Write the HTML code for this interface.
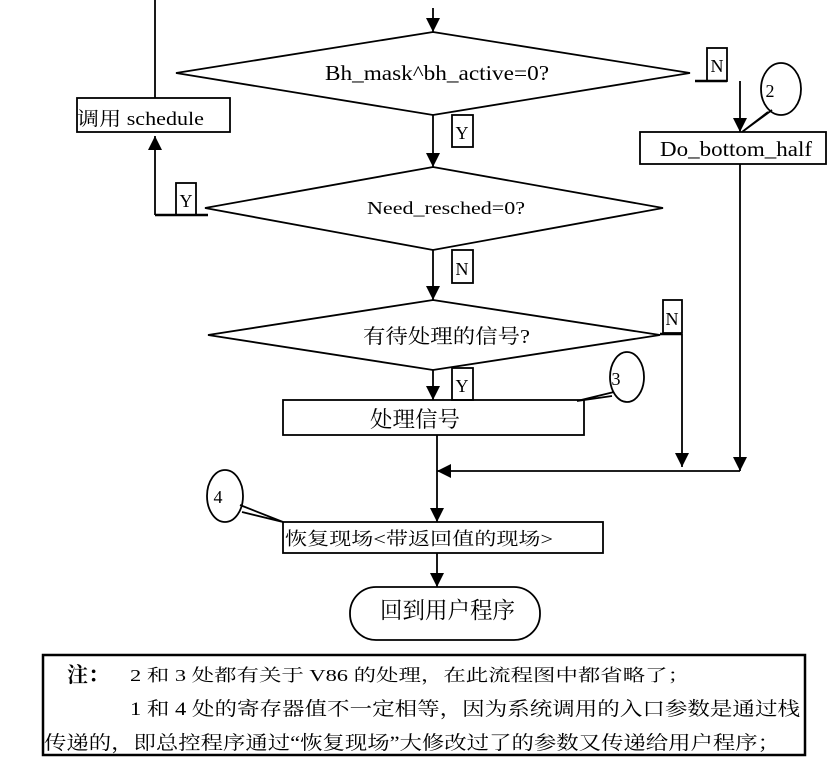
<!DOCTYPE html>
<html><head><meta charset="utf-8"><style>html,body{margin:0;padding:0;background:#fff}svg{display:block}</style></head>
<body>
<svg width="834" height="766" viewBox="0 0 834 766" xmlns="http://www.w3.org/2000/svg" font-family="Liberation Serif, Noto Serif CJK SC, serif" fill="#000">
<defs>
<marker id="a" viewBox="0 0 10 10" refX="10" refY="5" markerWidth="14" markerHeight="14" markerUnits="userSpaceOnUse" orient="auto"><path d="M0,0 L10,5 L0,10 z"/></marker>
</defs>
<g stroke="#000" stroke-width="1.8" fill="none">
<line x1="433" y1="8" x2="433" y2="32" marker-end="url(#a)"/>
<polygon points="433,32 690,73 433,115 176,73"/>
<rect x="77" y="98" width="153" height="34"/>
<line x1="155" y1="0" x2="155" y2="98"/>
<line x1="155" y1="215" x2="155" y2="136" marker-end="url(#a)"/>
<line x1="155" y1="215" x2="208" y2="215" stroke-width="2.5"/>
<rect x="176" y="183" width="20" height="32"/>
<line x1="433" y1="115" x2="433" y2="167" marker-end="url(#a)"/>
<rect x="452" y="115" width="21" height="32"/>
<polygon points="433,167 663,208 433,250 205,208"/>
<line x1="433" y1="250" x2="433" y2="300" marker-end="url(#a)"/>
<rect x="452" y="250" width="21" height="33"/>
<rect x="707" y="48" width="20" height="33"/>
<line x1="695" y1="81" x2="727" y2="81" stroke-width="2.5"/>
<line x1="740" y1="81" x2="740" y2="132" marker-end="url(#a)"/>
<rect x="640" y="132" width="186" height="32"/>
<line x1="740" y1="164" x2="740" y2="471" marker-end="url(#a)"/>
<ellipse cx="781" cy="89" rx="20" ry="26"/>
<path d="M772,110 L742,132 L768,112"/>
<polygon points="433,300 660,335 433,370 208,335"/>
<rect x="663" y="300" width="19" height="33"/>
<line x1="660" y1="334" x2="682" y2="334" stroke-width="2.5"/>
<line x1="682" y1="334" x2="682" y2="467" marker-end="url(#a)"/>
<line x1="433" y1="370" x2="433" y2="400" marker-end="url(#a)"/>
<rect x="452" y="368" width="21" height="32"/>
<rect x="283" y="400" width="301" height="35"/>
<ellipse cx="627" cy="377" rx="17" ry="25"/>
<path d="M614,392 L577,401 L612,396"/>
<line x1="437" y1="435" x2="437" y2="522" marker-end="url(#a)"/>
<line x1="740" y1="471" x2="437" y2="471" marker-end="url(#a)"/>
<rect x="283" y="522" width="320" height="31"/>
<ellipse cx="225" cy="496" rx="18" ry="26"/>
<path d="M240,505 L283,522 L242,512"/>
<line x1="437" y1="553" x2="437" y2="587" marker-end="url(#a)"/>
<rect x="350" y="587" width="190" height="53" rx="26"/>
<rect x="43" y="655" width="762" height="100" stroke-width="2.5"/>
</g>
<g font-size="21">
<text x="325" y="80" textLength="224" lengthAdjust="spacingAndGlyphs">Bh_mask^bh_active=0?</text>
<text x="367" y="214" font-size="18" textLength="158" lengthAdjust="spacingAndGlyphs">Need_resched=0?</text>
<text x="363" y="343" font-size="20" textLength="167" lengthAdjust="spacingAndGlyphs">有待处理的信号?</text>
<text x="370" y="427" font-size="22" textLength="90" lengthAdjust="spacingAndGlyphs">处理信号</text>
<text x="660" y="156" textLength="152" lengthAdjust="spacingAndGlyphs">Do_bottom_half</text>
<text x="380" y="618" font-size="23" textLength="135" lengthAdjust="spacingAndGlyphs">回到用户程序</text>
</g>
<g font-size="18" text-anchor="middle">
<text x="186" y="207">Y</text>
<text x="462" y="139">Y</text>
<text x="462" y="275">N</text>
<text x="462" y="392">Y</text>
<text x="717" y="72">N</text>
<text x="672" y="325">N</text>
<text x="770" y="97">2</text>
<text x="616" y="385">3</text>
<text x="218" y="503">4</text>
</g>
<text x="77" y="125" font-size="19" textLength="127" lengthAdjust="spacingAndGlyphs">调用 schedule</text>
<text x="285" y="545" font-size="18" textLength="268" lengthAdjust="spacingAndGlyphs">恢复现场&lt;带返回值的现场&gt;</text>
<text x="67" y="682" font-size="21" font-weight="bold">注：</text>
<text x="130" y="681" font-size="17" textLength="560" lengthAdjust="spacingAndGlyphs">2 和 3 处都有关于 V86 的处理，在此流程图中都省略了；</text>
<text x="130" y="715" font-size="19" textLength="670" lengthAdjust="spacingAndGlyphs">1 和 4 处的寄存器值不一定相等，因为系统调用的入口参数是通过栈</text>
<text x="44" y="749" font-size="19" textLength="736" lengthAdjust="spacingAndGlyphs">传递的，即总控程序通过“恢复现场”大修改过了的参数又传递给用户程序；</text>
</svg>
</body></html>
